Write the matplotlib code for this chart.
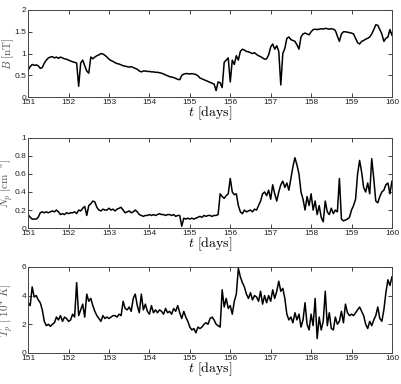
import numpy as np
import matplotlib
matplotlib.use("Agg")
import matplotlib.pyplot as plt

plt.rcParams["font.family"] = ["Liberation Sans", "DejaVu Sans"]
plt.rcParams["mathtext.fontset"] = "cm"

T_START = 151.0
T_STEP = 0.05

b_field = [
    0.62, 0.70, 0.75, 0.73, 0.74, 0.72, 0.66, 0.68, 0.78, 0.85,
    0.90, 0.92, 0.93, 0.90, 0.92, 0.89, 0.92, 0.90, 0.88, 0.87,
    0.85, 0.83, 0.81, 0.80, 0.78, 0.25, 0.78, 0.85, 0.72, 0.60,
    0.55, 0.92, 0.88, 0.92, 0.95, 0.97, 1.00, 0.99, 0.96, 0.92,
    0.87, 0.84, 0.82, 0.79, 0.77, 0.76, 0.74, 0.72, 0.71, 0.70,
    0.69, 0.70, 0.68, 0.66, 0.64, 0.60, 0.58, 0.60, 0.60, 0.59,
    0.59, 0.58, 0.58, 0.57, 0.57, 0.56, 0.55, 0.53, 0.51, 0.49,
    0.47, 0.46, 0.45, 0.43, 0.41, 0.40, 0.50, 0.53, 0.54, 0.54,
    0.53, 0.54, 0.53, 0.52, 0.49, 0.44, 0.42, 0.40, 0.38, 0.36,
    0.34, 0.32, 0.30, 0.15, 0.35, 0.33, 0.22, 0.80, 0.85, 0.90,
    0.35, 0.85, 0.75, 0.95, 0.85, 1.05, 1.10, 1.08, 1.05, 1.04,
    1.02, 1.00, 1.02, 0.98, 0.95, 0.93, 0.90, 0.87, 0.88, 0.97,
    1.15, 1.22, 1.10, 1.18, 1.05, 0.28, 1.00, 1.12, 1.35, 1.38,
    1.32, 1.30, 1.28, 1.20, 1.10, 1.38, 1.45, 1.47, 1.45, 1.43,
    1.50, 1.55, 1.56, 1.55, 1.56, 1.57, 1.56, 1.58, 1.57, 1.56,
    1.57, 1.56, 1.53, 1.40, 1.28, 1.45, 1.50, 1.50, 1.49, 1.48,
    1.47, 1.45, 1.35, 1.25, 1.22, 1.28, 1.30, 1.33, 1.35, 1.38,
    1.45, 1.55, 1.66, 1.65, 1.55, 1.45, 1.28, 1.35, 1.38, 1.55,
    1.42,
]

n_p = [
    0.15, 0.12, 0.10, 0.10, 0.10, 0.12, 0.17, 0.18, 0.17, 0.18,
    0.17, 0.18, 0.19, 0.18, 0.20, 0.18, 0.15, 0.16, 0.15, 0.17,
    0.16, 0.17, 0.17, 0.18, 0.16, 0.20, 0.19, 0.22, 0.24, 0.14,
    0.25, 0.27, 0.30, 0.29, 0.23, 0.20, 0.19, 0.21, 0.20, 0.20,
    0.22, 0.20, 0.21, 0.19, 0.21, 0.22, 0.23, 0.20, 0.17, 0.18,
    0.19, 0.17, 0.18, 0.20, 0.18, 0.15, 0.14, 0.13, 0.14, 0.14,
    0.15, 0.14, 0.15, 0.14, 0.15, 0.16, 0.15, 0.15, 0.14, 0.15,
    0.15, 0.14, 0.15, 0.13, 0.14, 0.14, 0.02, 0.11, 0.10, 0.11,
    0.10, 0.11, 0.10, 0.11, 0.12, 0.13, 0.12, 0.14, 0.13, 0.14,
    0.14, 0.13, 0.14, 0.14, 0.15, 0.38, 0.35, 0.33, 0.36, 0.38,
    0.55, 0.40, 0.37, 0.38, 0.25, 0.18, 0.16, 0.20, 0.18, 0.19,
    0.20, 0.18, 0.21, 0.20, 0.25, 0.30, 0.38, 0.40, 0.36, 0.42,
    0.32, 0.48, 0.38, 0.30, 0.40, 0.48, 0.52, 0.45, 0.50, 0.42,
    0.55, 0.68, 0.78, 0.70, 0.60, 0.40, 0.32, 0.20, 0.35, 0.25,
    0.38, 0.20, 0.30, 0.15, 0.25, 0.12, 0.07, 0.30, 0.18, 0.15,
    0.22, 0.16, 0.20, 0.18, 0.55, 0.10, 0.08, 0.09, 0.10, 0.12,
    0.20, 0.25, 0.32, 0.60, 0.75, 0.62, 0.45, 0.40, 0.50, 0.38,
    0.77, 0.55, 0.30, 0.28, 0.35, 0.40, 0.42, 0.48, 0.50, 0.38,
    0.52,
]

t_p = [
    3.5, 3.3, 4.6, 3.9, 4.0, 3.7, 3.5, 3.0, 2.2, 1.9,
    2.0, 1.85, 2.0, 2.1, 2.5, 2.3, 2.6, 2.2, 2.5, 2.4,
    2.2, 2.3, 2.7, 2.5, 4.9, 2.6, 3.0, 3.4, 2.5, 4.1,
    3.6, 3.8, 3.3, 2.9, 2.6, 2.4, 2.2, 2.6, 2.4, 2.5,
    2.4, 2.5, 2.6, 2.6, 2.5, 2.7, 2.6, 3.6, 3.1, 3.0,
    3.2, 2.9, 3.8, 4.1, 3.3, 2.8, 4.1, 3.0, 3.4, 2.9,
    2.7, 3.3, 2.8, 3.0, 2.8, 3.0, 2.9, 2.7, 3.1, 2.8,
    2.9, 2.7, 3.1, 2.9, 3.3, 2.8, 2.4, 2.9, 2.5, 2.2,
    1.8, 1.6, 1.7, 1.4, 1.8, 1.7, 1.8, 2.0, 2.1, 2.0,
    2.4, 2.5, 2.3, 2.0, 1.9, 1.8, 4.4, 3.2, 3.8, 3.1,
    3.3, 2.7, 3.6, 4.1, 5.9, 5.3, 4.9, 4.6, 4.1, 3.8,
    4.2, 3.7, 4.0, 3.9, 3.6, 4.3, 3.4, 4.0, 3.5, 4.0,
    3.6, 4.4, 3.8, 4.3, 5.0, 4.3, 4.5, 3.8, 2.7, 2.3,
    2.5, 2.1, 2.8, 2.3, 2.7, 1.8, 2.3, 3.5, 2.0, 1.6,
    2.7, 1.9, 3.8, 1.0, 2.5, 1.6, 2.2, 4.3, 1.9, 2.8,
    1.7, 1.6, 2.5, 2.0, 2.2, 2.9, 2.1, 3.4, 2.8, 2.6,
    2.7, 2.6, 2.8, 3.0, 3.2, 2.9, 2.6, 2.0, 1.7, 2.2,
    1.9, 2.3, 2.6, 3.2, 2.4, 2.2, 3.0, 4.2, 5.1, 4.7,
    5.3,
]

panels = [
    (b_field, r"$B\ [\mathrm{nT}]$", (0, 2), [0, 0.5, 1, 1.5, 2], ["0", "0.5", "1", "1.5", "2"]),
    (n_p, r"$N_p\ [\mathrm{cm}^{-3}]$", (0, 1), [0, 0.2, 0.4, 0.6, 0.8, 1], ["0", "0.2", "0.4", "0.6", "0.8", "1"]),
    (t_p, r"$T_p\ [\ 10^4\ K]$", (0, 6), [0, 2, 4, 6], ["0", "2", "4", "6"]),
]

# axes rectangles in figure fractions (left, bottom, width, height)
rects = [
    [0.07, 0.747, 0.905, 0.227],
    [0.07, 0.406, 0.905, 0.235],
    [0.07, 0.081, 0.905, 0.224],
]

fig = plt.figure(figsize=(4.02, 3.84), dpi=100)

for (vals, ylab, ylim, yt, ytl), rect in zip(panels, rects):
    ax = fig.add_axes(rect)
    t = T_START + T_STEP * np.arange(len(vals))
    ax.plot(t, vals, color="black", linewidth=1.1)
    ax.set_xlim(151, 160)
    ax.set_ylim(*ylim)
    ax.set_xticks(np.arange(151, 161))
    ax.set_yticks(yt)
    ax.set_yticklabels(ytl)
    ax.tick_params(direction="in", top=True, right=True, length=3,
                   width=0.6, labelsize=6, pad=1.2, colors="#222222")
    for s in ax.spines.values():
        s.set_linewidth(0.7)
        s.set_color("#444444")
    ax.set_ylabel(ylab, fontsize=8, color="#555555")
    ax.yaxis.set_label_coords(-0.033, 0.5)
    ax.set_xlabel(r"$t\ [\mathrm{days}]$", fontsize=10, labelpad=-1)

fig.savefig("out.png", dpi=100)
